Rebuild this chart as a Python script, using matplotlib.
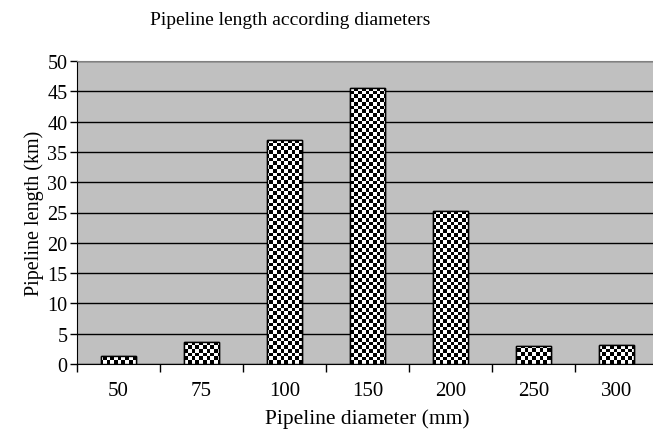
import numpy as np
import matplotlib
matplotlib.use('Agg')
from matplotlib import pyplot as plt

diameters = ['50', '75', '100', '150', '200', '250', '300']
lengths = [1.3, 3.6, 37.0, 45.5, 25.2, 3.0, 3.2]

plt.rcParams['font.family'] = ['Liberation Serif', 'DejaVu Serif']

fig = plt.figure(figsize=(6.53, 4.35), dpi=100)
ax = fig.add_axes([77 / 653, 1 - 365 / 435, 581 / 653, 303 / 435])

x = np.arange(len(diameters))
bars = ax.bar(x, lengths, width=0.42, facecolor='white', edgecolor='black',
              linewidth=1.0, zorder=3)

ax.set_xlim(-0.5, len(diameters) - 0.5)
ax.set_ylim(0, 50)

# checkerboard fill, one image per bar clipped to the bar
cell = 3.7
nx = int(581 / cell)
ny = int(303 / cell)
board = (np.add.outer(np.arange(ny), np.arange(nx)) % 2).astype(float)
for b in bars:
    im = ax.imshow(board, cmap='gray', extent=(-0.5, len(diameters) - 0.5, 0, 50),
                   aspect='auto', interpolation='nearest', zorder=3.5, origin='lower')
    im.set_clip_path(b)
    ax.add_patch(plt.Rectangle(b.get_xy(), b.get_width(), b.get_height(),
                               fill=False, edgecolor='black', linewidth=1.0, zorder=4))
ax.set_xlim(-0.5, len(diameters) - 0.5)
ax.set_ylim(0, 50)

ax.set_facecolor('#c0c0c0')
ax.set_yticks(np.arange(0, 51, 5))
ax.yaxis.grid(True, color='black', linewidth=1.0, zorder=1)
ax.set_axisbelow(True)

ax.set_xticks(x)
ax.set_xticklabels(diameters, fontsize=15)
ax.tick_params(axis='x', length=0, pad=12)
ax.set_xticks(np.arange(-0.5, len(diameters), 1), minor=True)
ax.tick_params(axis='x', which='minor', length=6, direction='out', width=1)
ax.tick_params(axis='y', labelsize=14.5, length=5, width=1, pad=2)

ax.spines['right'].set_visible(False)
ax.spines['top'].set_color('#808080')
ax.spines['left'].set_color('black')
ax.spines['bottom'].set_color('black')

ax.set_ylabel('Pipeline length (km)', fontsize=14.5, labelpad=2)
ax.set_xlabel('Pipeline diameter (mm)', fontsize=15.5, labelpad=6)
fig.text(0.445, 0.952, 'Pipeline length according diameters', fontsize=14,
         ha='center', va='center')

fig.savefig('out.png', dpi=100)
